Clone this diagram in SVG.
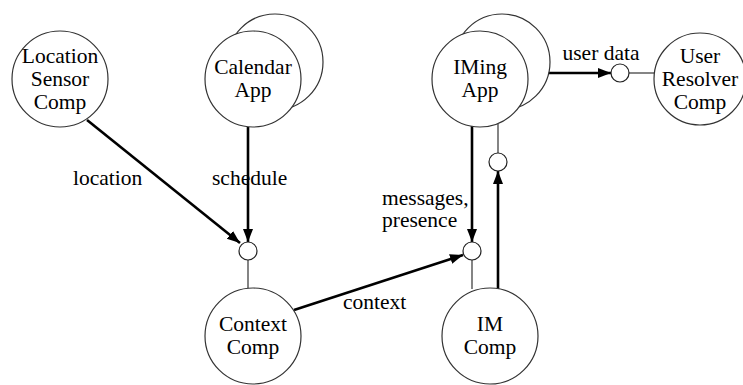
<svg xmlns="http://www.w3.org/2000/svg" width="743" height="385" viewBox="0 0 743 385">
<style>
.node{fill:#fff;stroke:#333;stroke-width:1.2}
.sock{fill:#fff;stroke:#222;stroke-width:1.2}
.thin{stroke:#333;stroke-width:1.2;fill:none}
.thick{stroke:#000;stroke-width:2.6;fill:none}
.t{font-family:'Liberation Serif','Times New Roman',serif;font-size:21.5px;fill:#000}
.c{text-anchor:middle}
</style>
<defs>
<marker id="ah" markerUnits="userSpaceOnUse" markerWidth="14" markerHeight="12" refX="13" refY="5" orient="auto">
<path d="M0,0 L13,5 L0,10 z" fill="#000"/>
</marker>
</defs>
<rect width="743" height="385" fill="#fff"/>

<g id="connectors">
<line class="thick" x1="87" y1="120" x2="240" y2="243" marker-end="url(#ah)"/>
<line class="thick" x1="248" y1="127" x2="248" y2="242" marker-end="url(#ah)"/>
<line class="thin" x1="248" y1="260" x2="248" y2="289"/>
<line class="thick" x1="294" y1="310" x2="463" y2="255" marker-end="url(#ah)"/>
<line class="thick" x1="472" y1="126" x2="472" y2="242" marker-end="url(#ah)"/>
<line class="thin" x1="472" y1="260" x2="472" y2="289"/>
<line class="thick" x1="498" y1="290" x2="498" y2="171" marker-end="url(#ah)"/>
<line class="thin" x1="498" y1="153" x2="498" y2="124"/>
<line class="thick" x1="528" y1="73" x2="611" y2="73" marker-end="url(#ah)"/>
<line class="thin" x1="629" y1="73" x2="654" y2="73"/>
<circle class="sock" cx="248" cy="251" r="9"/>
<circle class="sock" cx="472" cy="251" r="9"/>
<circle class="sock" cx="498" cy="162" r="9"/>
<circle class="sock" cx="620" cy="73" r="9"/>
<text class="t" x="73" y="185">location</text>
<text class="t" x="212" y="185">schedule</text>
<text class="t" x="343" y="309">context</text>
<text class="t" x="382" y="205">messages,</text>
<text class="t" x="382" y="227">presence</text>
<text class="t c" x="601" y="60">user data</text>
</g>

<g id="location-sensor">
<circle class="node" cx="60" cy="79" r="48"/>
<text class="t c" x="60" y="63">Location</text>
<text class="t c" x="60" y="86">Sensor</text>
<text class="t c" x="60" y="109">Comp</text>
</g>

<g id="calendar-app">
<circle class="node" cx="275" cy="62" r="48"/>
<circle class="node" cx="253" cy="79" r="48"/>
<text class="t c" x="253" y="74">Calendar</text>
<text class="t c" x="253" y="97">App</text>
</g>

<g id="iming-app">
<circle class="node" cx="502" cy="62" r="48"/>
<circle class="node" cx="480" cy="79" r="48"/>
<text class="t c" x="480" y="74">IMing</text>
<text class="t c" x="480" y="97">App</text>
</g>

<g id="user-resolver">
<circle class="node" cx="700" cy="79" r="46"/>
<text class="t c" x="700" y="63">User</text>
<text class="t c" x="700" y="86">Resolver</text>
<text class="t c" x="700" y="109">Comp</text>
</g>

<g id="context-comp">
<circle class="node" cx="253" cy="336" r="48"/>
<text class="t c" x="253" y="331">Context</text>
<text class="t c" x="253" y="354">Comp</text>
</g>

<g id="im-comp">
<circle class="node" cx="490" cy="336" r="48"/>
<text class="t c" x="490" y="331">IM</text>
<text class="t c" x="490" y="354">Comp</text>
</g>
</svg>
